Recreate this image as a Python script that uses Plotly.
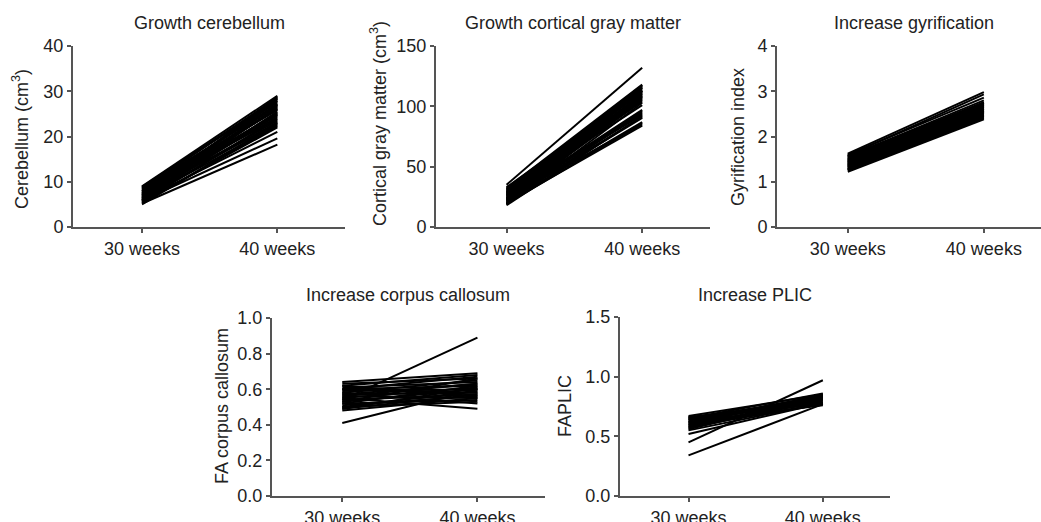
import plotly.graph_objects as go

W, H = 1041, 522

weeks = ["30 weeks", "40 weeks"]

titles = ["Growth cerebellum", "Growth cortical gray matter", "Increase gyrification",
          "Increase corpus callosum", "Increase PLIC"]
ytitles = ["Cerebellum (cm<sup>3</sup>)", "Cortical gray matter (cm<sup>3</sup>)",
           "Gyrification index", "FA corpus callosum", "FAPLIC"]

cerebellum_30 = [5.2, 5.8, 6.0, 5.5, 6.2, 5.0, 6.8, 5.6, 7.0, 6.4, 7.5, 5.9, 8.0, 6.6, 7.2, 8.5,
                 6.0, 7.8, 8.8, 7.0, 8.2, 9.0, 6.3, 7.4, 5.3, 8.6, 6.9, 7.7, 5.7, 8.3, 6.5, 7.9,
                 8.9, 6.1, 7.3]
cerebellum_40 = [18.2, 19.6, 21.0, 22.0, 22.5, 23.0, 23.5, 24.0, 24.3, 24.8, 25.2, 25.5, 26.0, 26.3,
                 26.8, 27.0, 27.3, 27.6, 28.0, 28.3, 28.6, 29.0, 23.2, 22.8, 22.3, 25.8, 27.9, 24.6,
                 26.6, 23.8, 28.8, 27.1, 28.4, 25.0, 26.1]

cortical_30 = [35, 32, 30, 28, 26, 31, 24, 29, 22, 27, 25, 20, 30, 23, 21, 26, 19, 28, 24, 22,
               20, 27, 25, 18, 23, 21, 19, 24, 20, 22, 26, 29, 23, 19, 31, 33]
cortical_40 = [132, 118, 117, 116, 115, 114, 113, 112, 111, 110, 109, 108, 107, 106, 105, 104, 103,
               101, 97, 96, 95, 94, 93, 92, 91, 87, 86, 85, 84, 90.5, 112.5, 115.5, 108.5, 110, 117.5, 113]

gyri_30 = [1.62, 1.58, 1.60, 1.56, 1.55, 1.52, 1.50, 1.48, 1.47, 1.45, 1.44, 1.42, 1.40, 1.38, 1.36,
           1.35, 1.33, 1.32, 1.30, 1.28, 1.27, 1.25, 1.22, 1.53, 1.46, 1.39, 1.34, 1.29, 1.57, 1.43,
           1.37, 1.50, 1.41, 1.26]
gyri_40 = [2.98, 2.93, 2.86, 2.80, 2.76, 2.74, 2.72, 2.70, 2.68, 2.66, 2.64, 2.62, 2.60, 2.58, 2.56,
           2.54, 2.52, 2.50, 2.48, 2.46, 2.44, 2.42, 2.38, 2.69, 2.75, 2.65, 2.61, 2.55, 2.71, 2.49,
           2.45, 2.57, 2.53, 2.40]

cc_30 = [0.64, 0.63, 0.62, 0.61, 0.60, 0.60, 0.59, 0.58, 0.57, 0.57, 0.56, 0.55, 0.54, 0.54, 0.53,
         0.52, 0.52, 0.51, 0.50, 0.50, 0.49, 0.48, 0.55, 0.41, 0.58, 0.62, 0.53, 0.56, 0.60, 0.49]
cc_40 = [0.69, 0.66, 0.68, 0.64, 0.62, 0.67, 0.60, 0.65, 0.58, 0.63, 0.55, 0.61, 0.89, 0.57, 0.60,
         0.54, 0.62, 0.56, 0.59, 0.53, 0.57, 0.55, 0.49, 0.60, 0.52, 0.56, 0.66, 0.63, 0.58, 0.61]

plic_30 = [0.67, 0.66, 0.65, 0.64, 0.63, 0.62, 0.61, 0.60, 0.59, 0.58, 0.57, 0.56, 0.55, 0.62, 0.65,
           0.60, 0.52, 0.45, 0.34, 0.64, 0.58, 0.66]
plic_40 = [0.85, 0.80, 0.86, 0.78, 0.83, 0.81, 0.84, 0.79, 0.82, 0.77, 0.80, 0.83, 0.78, 0.76, 0.82,
           0.85, 0.78, 0.97, 0.77, 0.84, 0.81, 0.77]

panels = [
    (cerebellum_30, cerebellum_40, [0, 40], [0, 10, 20, 30, 40], None),
    (cortical_30, cortical_40, [0, 150], [0, 50, 100, 150], None),
    (gyri_30, gyri_40, [0, 4], [0, 1, 2, 3, 4], None),
    (cc_30, cc_40, [0, 1.0], [0, 0.2, 0.4, 0.6, 0.8, 1.0], ".1f"),
    (plic_30, plic_40, [0, 1.5], [0, 0.5, 1.0, 1.5], ".1f"),
]

# pixel geometry: (axis left, axis right, y top, y bottom, xrange)
geom = [
    (73, 345, 46, 227, [-0.51, 1.5]),
    (436, 710, 46, 227, [-0.52, 1.5]),
    (777, 1041, 46, 227, [-0.52, 1.42]),
    (272, 545, 318, 496, [-0.52, 1.5]),
    (620, 890, 317, 496, [-0.51, 1.5]),
]
title_pos = [(209, 23), (573, 23), (914, 23), (408, 295), (755, 295)]
ytitle_pos = [(20, 139), (378, 124), (738, 137), (222, 406), (565, 406)]

FONT = "Liberation Sans, Arial, sans-serif"
TXT = "#222222"
AX = "#555555"

fig = go.Figure()
layout = dict(width=W, height=H, margin=dict(l=0, r=0, t=0, b=0, autoexpand=False),
              paper_bgcolor="white", plot_bgcolor="white", showlegend=False,
              font=dict(family=FONT, size=18, color=TXT))
annotations = []

for i, ((a, b, yr, yt, fmt), (xl, xr, yt_px, yb_px, xrng)) in enumerate(zip(panels, geom)):
    n = i + 1
    xs, ys = [], []
    for v0, v1 in zip(a, b):
        xs += [weeks[0], weeks[1], None]
        ys += [v0, v1, None]
    xa = "x" if n == 1 else f"x{n}"
    ya = "y" if n == 1 else f"y{n}"
    fig.add_trace(go.Scatter(x=xs, y=ys, mode="lines", xaxis=xa, yaxis=ya,
                             line=dict(color="black", width=2), connectgaps=False,
                             hoverinfo="skip"))
    xkey = "xaxis" if n == 1 else f"xaxis{n}"
    ykey = "yaxis" if n == 1 else f"yaxis{n}"
    layout[xkey] = dict(domain=[xl / W, min(xr / W, 1)], anchor=ya, type="category",
                        categoryorder="array", categoryarray=weeks, range=xrng,
                        automargin=False,
                        showline=True, linecolor=AX, linewidth=2, showgrid=False,
                        zeroline=False, ticks="outside", ticklen=4, tickcolor=AX,
                        tickwidth=1.5, tickfont=dict(size=18, color=TXT, family=FONT))
    layout[ykey] = dict(domain=[(H - yb_px) / H, (H - yt_px) / H], anchor=xa, range=yr,
                        automargin=False,
                        tickvals=yt, tickformat=fmt, showline=True, linecolor=AX,
                        linewidth=2, showgrid=False, zeroline=False, ticks="outside",
                        ticklen=4, tickcolor=AX, tickwidth=1.5,
                        tickfont=dict(size=18, color=TXT, family=FONT))
    tx, ty = title_pos[i]
    annotations.append(dict(text=titles[i], x=tx / W, y=(H - ty) / H, xref="paper",
                            yref="paper", showarrow=False, xanchor="center",
                            yanchor="middle", font=dict(size=18, color=TXT, family=FONT)))
    yx, yy = ytitle_pos[i]
    annotations.append(dict(text=ytitles[i], x=yx / W, y=(H - yy) / H, xref="paper",
                            yref="paper", showarrow=False, xanchor="center",
                            yanchor="middle", textangle=-90,
                            font=dict(size=18, color=TXT, family=FONT)))

layout["annotations"] = annotations
fig.update_layout(**layout)
fig.write_html("out.html")
